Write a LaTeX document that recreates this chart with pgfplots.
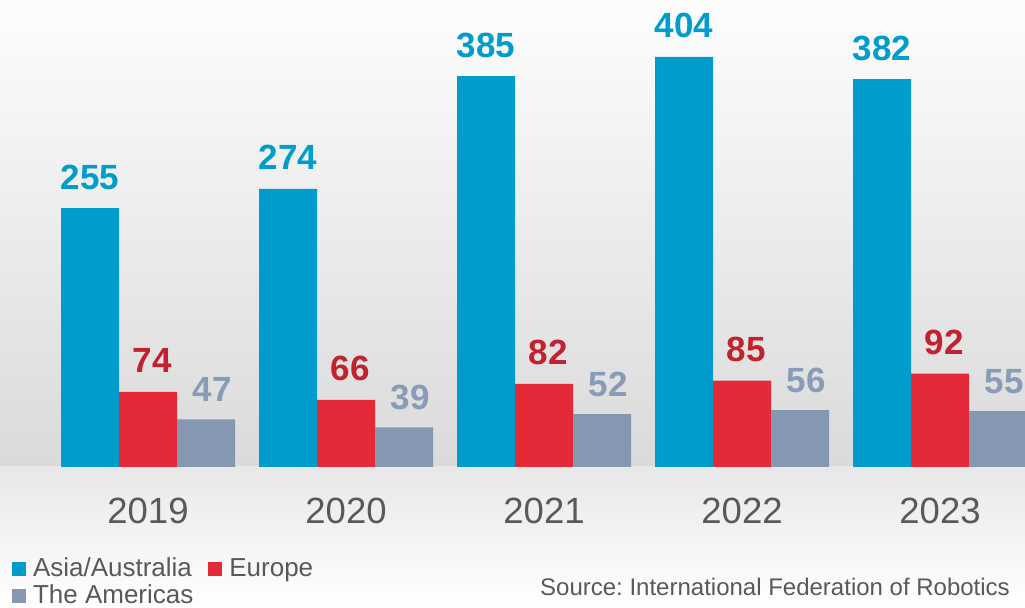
\documentclass[border=0pt]{standalone}
\usepackage{pgfplots}
\pgfplotsset{compat=1.18}
\usepackage{fontspec}
\setmainfont{Liberation Sans}
\frenchspacing
\definecolor{asia}{RGB}{0,157,204}
\definecolor{europe}{RGB}{228,41,56}
\definecolor{amer}{RGB}{133,151,177}
\definecolor{eurlab}{RGB}{194,33,45}
\definecolor{amerlab}{RGB}{136,155,184}
\definecolor{txtgray}{RGB}{89,89,89}
\definecolor{bgtop}{RGB}{253,253,253}
\definecolor{bgmid}{RGB}{232,232,232}
\definecolor{bgbot}{RGB}{218,218,218}
\definecolor{bglow}{RGB}{232,232,232}
\pgfplotsset{sqlegend/.style={legend image code/.code={\fill[##1,draw=none] (0bp,-7bp) rectangle (14bp,7bp);}}}
\begin{document}
\begin{tikzpicture}
\useasboundingbox (0,0) rectangle (1025bp,608bp);
\shade[top color=bgtop, middle color=bgmid, bottom color=bgbot, draw=none] (0,141bp) rectangle (1025bp,608bp);
\shade[top color=bglow, bottom color=white, draw=none] (0,0) rectangle (1025bp,141bp);
\begin{axis}[
  at={(0bp,141bp)}, anchor=south west,
  scale only axis, width=1025bp, height=467bp,
  xmin=-0.7475, xmax=4.4293, ymin=0, ymax=460,
  ybar=0pt, bar width=58bp,
  axis line style={draw=none},
  major tick length=0pt,
  ytick=\empty,
  xtick={0,1,2,3,4},
  xticklabels={\mbox{2019},\mbox{2020},\mbox{2021},\mbox{2022},\mbox{2023}},
  xticklabel style={anchor=base, yshift=-56bp, inner sep=0pt, font=\fontsize{36.5bp}{36.5bp}\selectfont, text=txtgray},
  /pgf/number format/assume math mode=true,
  nodes near coords,
  every node near coord/.append style={anchor=base, yshift=19bp, inner sep=0pt, font=\fontsize{35bp}{35bp}\selectfont\bfseries},
  legend columns=2,
  legend cell align=left,
  legend style={draw=none, fill=none, inner sep=0pt, outer sep=0pt,
    at={(0,0)}, anchor=north west, xshift=12bp, yshift=-89bp,
    nodes={inner sep=0pt, text height=20bp, text depth=6bp, font=\fontsize{26bp}{26bp}\selectfont, text=txtgray},
    row sep=1bp,
    /tikz/every odd column/.style={column sep=7bp},
    /tikz/every even column/.style={column sep=15bp}},
]
\addplot[fill=asia, draw=none, sqlegend, every node near coord/.append style={text=asia}] coordinates {(0,255) (1,274) (2,385) (3,404) (4,382)};
\addplot[fill=europe, draw=none, sqlegend, every node near coord/.append style={text=eurlab, xshift=4bp}] coordinates {(0,74) (1,66) (2,82) (3,85) (4,92)};
\addplot[fill=amer, draw=none, sqlegend, every node near coord/.append style={text=amerlab, xshift=6bp, yshift=-1bp}] coordinates {(0,47) (1,39) (2,52) (3,56) (4,55)};
\legend{Asia/Australia, Europe, The Americas}
\end{axis}
\node[anchor=base east, inner sep=0pt, font=\fontsize{24bp}{24bp}\selectfont, text=txtgray] at (1010bp,13bp) {Source: International Federation of Robotics};
\end{tikzpicture}
\end{document}
